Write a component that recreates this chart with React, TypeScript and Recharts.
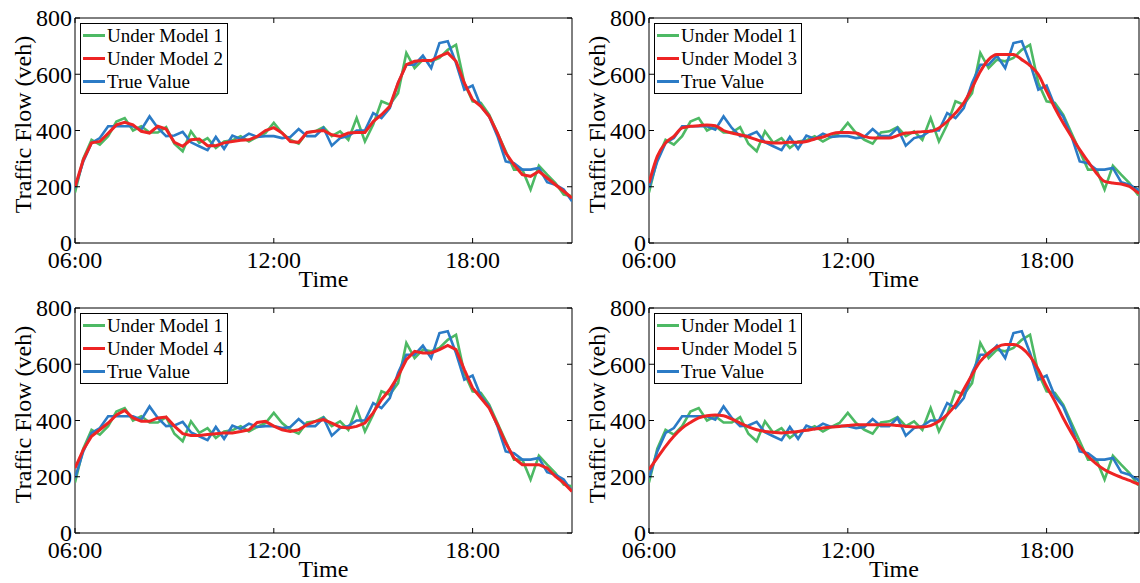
import React from 'react';
import { LineChart, Line, XAxis, YAxis, ReferenceArea, Legend, Label } from 'recharts';

const START_HOUR = 6;
const STEP_HOURS = 0.25;
const xTicks = [6, 12, 18];
const yTicks = [0, 200, 400, 600, 800];

const trueValue = [195, 290, 356, 373, 415, 415, 415, 415, 403, 450, 409, 380, 382, 395, 358, 344, 330, 377, 335, 382, 370, 389, 377, 380, 380, 373, 377, 405, 380, 380, 409, 346, 373, 380, 400, 400, 462, 444, 480, 569, 634, 634, 666, 622, 711, 717, 640, 545, 560, 486, 450, 380, 290, 284, 261, 261, 267, 216, 207, 190, 148];
const model1 = [180, 300, 367, 350, 380, 432, 444, 400, 415, 393, 393, 412, 353, 326, 397, 356, 373, 338, 361, 365, 380, 361, 377, 391, 427, 391, 367, 353, 393, 397, 412, 380, 397, 367, 444, 361, 421, 504, 492, 533, 676, 622, 652, 646, 658, 687, 705, 569, 504, 498, 456, 391, 326, 261, 261, 190, 275, 243, 213, 172, 166];
const model2 = [200, 296, 356, 361, 390, 420, 429, 420, 397, 391, 415, 405, 358, 344, 367, 370, 346, 346, 356, 361, 365, 367, 379, 400, 410, 391, 361, 358, 393, 397, 400, 385, 379, 391, 393, 393, 432, 456, 486, 569, 634, 646, 649, 649, 664, 676, 646, 569, 510, 486, 450, 391, 320, 278, 243, 237, 255, 231, 207, 184, 160];
const model3 = [213, 308, 356, 379, 409, 415, 417, 420, 417, 400, 391, 385, 377, 367, 359, 356, 356, 358, 358, 361, 370, 377, 388, 393, 393, 391, 379, 373, 373, 373, 382, 391, 393, 396, 397, 409, 432, 462, 498, 551, 610, 652, 670, 670, 670, 652, 631, 599, 539, 480, 427, 379, 332, 290, 249, 219, 213, 210, 201, 180, 170];
const model4 = [231, 296, 344, 367, 391, 420, 436, 409, 397, 397, 409, 412, 380, 353, 347, 347, 350, 353, 356, 356, 361, 367, 393, 397, 380, 367, 361, 367, 385, 397, 403, 391, 377, 373, 379, 391, 427, 474, 510, 557, 616, 646, 640, 640, 652, 667, 652, 581, 516, 480, 444, 385, 320, 267, 243, 243, 243, 231, 201, 178, 148];
const model5 = [225, 267, 308, 344, 373, 393, 409, 417, 420, 417, 405, 391, 377, 367, 361, 358, 356, 358, 361, 365, 370, 373, 377, 379, 382, 385, 385, 385, 385, 385, 382, 379, 377, 377, 382, 397, 421, 456, 510, 563, 610, 640, 661, 670, 670, 658, 628, 581, 521, 468, 409, 356, 308, 273, 246, 225, 210, 198, 187, 175, 168];

const GREEN = '#4db964';
const RED = '#ee2424';
const BLUE = '#2b7bc6';
const FONT = '"Liberation Serif", "Times New Roman", serif';
const PLOT_H = 225;

function buildData(other: number[]) {
  return trueValue.map((v, i) => ({
    t: START_HOUR + i * STEP_HOURS,
    truth: v,
    m1: model1[i],
    other: other[i],
  }));
}

const fmtHour = (v: number) => `${String(Math.round(v)).padStart(2, '0')}:00`;

type PanelProps = {
  left: number;
  top: number;
  width: number;
  plotWidth: number;
  xMax: number;
  otherName: string;
  other: number[];
  smooth: boolean;
};

function Panel({ left, top, width, plotWidth, xMax, otherName, other, smooth }: PanelProps) {
  const data = buildData(other);
  const XTick = (p: any) => {
    const { x, y, payload } = p;
    return (
      <g>
        <line x1={x} x2={x} y1={y} y2={y - 5} stroke="#000" strokeWidth={1} />
        <line x1={x} x2={x} y1={y - PLOT_H} y2={y - PLOT_H + 5} stroke="#000" strokeWidth={1} />
        <text x={x} y={y + 25} textAnchor="middle" fontFamily={FONT} fontSize={24} fill="#000">
          {fmtHour(payload.value)}
        </text>
      </g>
    );
  };
  const YTick = (p: any) => {
    const { x, y, payload } = p;
    return (
      <g>
        <line x1={x} x2={x + 5} y1={y} y2={y} stroke="#000" strokeWidth={1} />
        <line x1={x + plotWidth} x2={x + plotWidth - 5} y1={y} y2={y} stroke="#000" strokeWidth={1} />
        <text x={x - 3} y={y} dy="0.35em" textAnchor="end" fontFamily={FONT} fontSize={24} fill="#000">
          {payload.value}
        </text>
      </g>
    );
  };
  const items = [
    { label: 'Under Model 1', color: GREEN },
    { label: otherName, color: RED },
    { label: 'True Value', color: BLUE },
  ];
  const legendContent = () => (
    <div
      style={{
        border: '1px solid #000',
        background: '#fff',
        padding: '0 4px 0 2px',
        fontFamily: FONT,
        fontSize: 19,
        lineHeight: '23px',
        color: '#000',
        whiteSpace: 'nowrap',
      }}
    >
      {items.map((it) => (
        <div key={it.label} style={{ display: 'flex', alignItems: 'center', height: 23 }}>
          <svg width={24} height={23} style={{ display: 'block' }}>
            <line x1={0} x2={22} y1={11.5} y2={11.5} stroke={it.color} strokeWidth={3} />
          </svg>
          <span>{it.label}</span>
        </div>
      ))}
    </div>
  );
  const rightMargin = width - 75 - plotWidth;
  return (
    <div style={{ position: 'absolute', left, top, width, height: 290 }}>
      <LineChart width={width} height={290} data={data} margin={{ top: 18, right: rightMargin, left: 0, bottom: 0 }}>
        <XAxis
          dataKey="t"
          type="number"
          domain={[START_HOUR, xMax]}
          ticks={xTicks}
          interval={0}
          allowDataOverflow
          height={47}
          tickSize={0}
          tickMargin={0}
          axisLine={false}
          tickLine={false}
          tick={XTick}
        >
          <Label
            content={(p: any) => {
              const vb = p.viewBox;
              return (
                <text x={vb.x + vb.width / 2} y={vb.y + 44} textAnchor="middle" fontFamily={FONT} fontSize={24} fill="#000">
                  Time
                </text>
              );
            }}
          />
        </XAxis>
        <YAxis
          type="number"
          domain={[0, 800]}
          ticks={yTicks}
          interval={0}
          width={75}
          tickSize={0}
          tickMargin={0}
          axisLine={false}
          tickLine={false}
          tick={YTick}
        >
          <Label
            content={(p: any) => {
              const vb = p.viewBox;
              const cx = vb.x + 31;
              const cy = vb.y + vb.height / 2 - 6;
              return (
                <text x={cx} y={cy} transform={`rotate(-90 ${cx} ${cy})`} textAnchor="middle" fontFamily={FONT} fontSize={24} fill="#000">
                  Traffic Flow (veh)
                </text>
              );
            }}
          />
        </YAxis>
        <ReferenceArea x1={START_HOUR} x2={xMax} y1={0} y2={800} fill="none" stroke="#000" strokeWidth={1} ifOverflow="visible" />
        <Line type="linear" dataKey="m1" stroke={GREEN} strokeWidth={2.6} dot={false} isAnimationActive={false} />
        <Line type="linear" dataKey="truth" stroke={BLUE} strokeWidth={2.6} dot={false} isAnimationActive={false} />
        <Line type={smooth ? 'monotone' : 'linear'} dataKey="other" stroke={RED} strokeWidth={3} dot={false} isAnimationActive={false} />
        <Legend
          layout="vertical"
          align="center"
          verticalAlign="middle"
          wrapperStyle={{ left: 80, top: 23, width: 'auto', height: 'auto' }}
          content={legendContent}
        />
      </LineChart>
    </div>
  );
}

export default function App() {
  const fullMax = 21;
  const rightMax = START_HOUR + (15 * 490) / 497;
  return (
    <div style={{ position: 'absolute', left: 0, top: 0, width: 1140, height: 583, overflow: 'hidden', background: '#fff' }}>
      <Panel left={0} top={0} width={580} plotWidth={497} xMax={fullMax} otherName="Under Model 2" other={model2} smooth={false} />
      <Panel left={574} top={0} width={566} plotWidth={490} xMax={rightMax} otherName="Under Model 3" other={model3} smooth={true} />
      <Panel left={0} top={290} width={580} plotWidth={497} xMax={fullMax} otherName="Under Model 4" other={model4} smooth={false} />
      <Panel left={574} top={290} width={566} plotWidth={490} xMax={rightMax} otherName="Under Model 5" other={model5} smooth={true} />
    </div>
  );
}
